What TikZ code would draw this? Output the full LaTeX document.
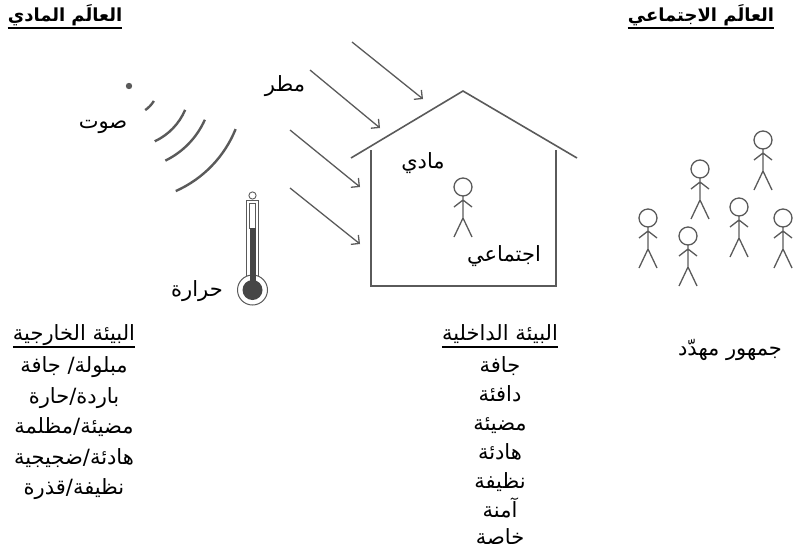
\documentclass[tikz,border=0pt]{standalone}
\usepackage{fontspec}
\usetikzlibrary{arrows.meta}
\newfontfamily\arabicfont[Script=Arabic]{DejaVu Sans}
\TeXXeTstate=1
\definecolor{ink}{HTML}{5A5A5A}
\definecolor{mercury}{HTML}{464646}
\tikzset{
  arab/.style={font=\arabicfont\fontsize{21}{24}\selectfont, inner sep=0pt, text=black,
    text height=14pt, text depth=5pt},
  heading/.style={font=\arabicfont\bfseries\fontsize{18}{22}\selectfont, inner sep=0pt, text=black,
    text height=13pt, text depth=4pt},
  underl/.style={line width=1.6pt, black},
  wall/.style={ink, line width=1.6pt},
  rain/.style={ink, line width=1.3pt, -{Straight Barb[length=6pt,width=12pt,line width=1.3pt]}},
  wave/.style={ink, line width=2.4pt},
  person/.style={ink, line width=1.3pt},
  stickman/.pic={
    \draw[person] (0,0) circle[radius=9];
    \draw[person] (0,9) -- (0,31) (-9,20) -- (0,13) -- (9,20) (-9,50) -- (0,31) -- (9,50);
  }
}
\begin{document}
\begin{tikzpicture}[x=1pt,y=-1pt]
\useasboundingbox (0,0) rectangle (795,550);

% headings
\node[heading] (phys) at (65,17) {\beginR العالَم المادي\endR};
\node[heading] (soc) at (701,17) {\beginR العالَم الاجتماعي\endR};
\draw[underl] ([yshift=-2pt]phys.south west) -- ([yshift=-2pt]phys.south east);
\draw[underl] ([yshift=-2pt]soc.south west) -- ([yshift=-2pt]soc.south east);

% sound source and waves
\fill[ink] (129,86) circle[radius=3.2];
\coordinate (src) at (129,86);
\draw[wave] (src) ++(31:29) arc[start angle=31, end angle=56, radius=29];
\draw[wave] (src) ++(23:61) arc[start angle=23, end angle=65, radius=61];
\draw[wave] (src) ++(24:83) arc[start angle=24, end angle=64, radius=83];
\draw[wave] (src) ++(22:115) arc[start angle=22, end angle=66, radius=115];
\node[arab] (sound) at (103,124) {\beginR صوت\endR};

% rain
\node[arab] (rainlbl) at (285,87) {\beginR مطر\endR};
\coordinate (r1a) at (352,42);  \coordinate (r1b) at (423,99);
\coordinate (r2a) at (310,70);  \coordinate (r2b) at (380,128);
\coordinate (r3a) at (290,130); \coordinate (r3b) at (360,187);
\coordinate (r4a) at (290,188); \coordinate (r4b) at (360,244);
\draw[rain] (r1a) -- (r1b);
\draw[rain] (r2a) -- (r2b);
\draw[rain] (r3a) -- (r3b);
\draw[rain] (r4a) -- (r4b);

% house
\draw[wall] (351,158) -- (463,91) -- (577,158);
\draw[wall] (371,150) -- (371,286) -- (556,286) -- (556,150);
\node[arab] (matter) at (423,164) {\beginR مادي\endR};
\node[arab] (social) at (504,257) {\beginR اجتماعي\endR};
\pic at (463,187) {stickman};

% thermometer
\draw[ink, line width=0.9pt] (252.5,195.5) circle[radius=3.6];
\draw[ink, line width=1pt, fill=white] (246.5,285) -- (246.5,200) -- (258.5,200) -- (258.5,285);
\draw[ink, line width=0.6pt] (249.5,203) rectangle (255.5,228);
\fill[mercury] (249.5,228) rectangle (255.5,285);
\draw[ink, line width=1pt, fill=white] (252.5,290) circle[radius=15];
\fill[mercury] (252.5,290) circle[radius=10];
\fill[mercury] (249.5,270) rectangle (255.5,285);
\node[arab] (heat) at (197,292) {\beginR حرارة\endR};

% crowd
\pic at (763,140) {stickman};
\pic at (700,169) {stickman};
\pic at (739,207) {stickman};
\pic at (648,218) {stickman};
\pic at (688,236) {stickman};
\pic at (783,218) {stickman};
\node[arab] (crowd) at (730,351) {\beginR جمهور مهدّد\endR};

% outer environment list
\node[arab] (outer) at (74,336) {\beginR البيئة الخارجية\endR};
\draw[underl] ([yshift=-1pt]outer.south west) -- ([yshift=-1pt]outer.south east);
\node[arab] (o1) at (74,368) {\beginR مبلولة/ جافة\endR};
\node[arab] (o2) at (74,399) {\beginR باردة/حارة\endR};
\node[arab] (o3) at (74,429) {\beginR مضيئة/مظلمة\endR};
\node[arab] (o4) at (74,460) {\beginR هادئة/ضجيجية\endR};
\node[arab] (o5) at (74,490) {\beginR نظيفة/قذرة\endR};

% inner environment list
\node[arab] (inner) at (500,336) {\beginR البيئة الداخلية\endR};
\draw[underl] ([yshift=-1pt]inner.south west) -- ([yshift=-1pt]inner.south east);
\node[arab] (i1) at (500,368) {\beginR جافة\endR};
\node[arab] (i2) at (500,397) {\beginR دافئة\endR};
\node[arab] (i3) at (500,426) {\beginR مضيئة\endR};
\node[arab] (i4) at (500,455) {\beginR هادئة\endR};
\node[arab] (i5) at (500,484) {\beginR نظيفة\endR};
\node[arab] (i6) at (500,513) {\beginR آمنة\endR};
\node[arab] (i7) at (500,540) {\beginR خاصة\endR};
\end{tikzpicture}
\end{document}
